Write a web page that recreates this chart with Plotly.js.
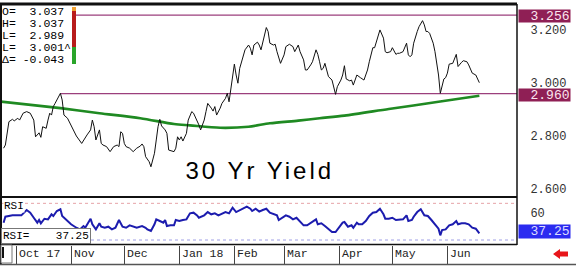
<!DOCTYPE html>
<html><head><meta charset="utf-8">
<script src="https://cdn.plot.ly/plotly-3.0.1.min.js"></script>
<style>html,body{margin:0;padding:0;background:#fff}#c{width:576px;height:270px}
#c .annotation-text[data-unformatted="30 Yr Yield"]{letter-spacing:3px}</style>
</head><body><div id="c"></div>
<script>
const yieldDates = ['2017-09-24','2017-09-25','2017-09-27','2017-09-29','2017-09-30',
'2017-10-02','2017-10-03','2017-10-05','2017-10-07','2017-10-09','2017-10-11','2017-10-12','2017-10-14','2017-10-15','2017-10-16','2017-10-18','2017-10-19','2017-10-20','2017-10-21','2017-10-22','2017-10-23','2017-10-25','2017-10-26','2017-10-27','2017-10-28','2017-10-30','2017-10-31',
'2017-11-02','2017-11-04','2017-11-07','2017-11-09','2017-11-10','2017-11-12','2017-11-13','2017-11-14','2017-11-15','2017-11-17','2017-11-18','2017-11-19','2017-11-21','2017-11-23','2017-11-25','2017-11-27','2017-11-28','2017-11-29','2017-11-30',
'2017-12-01','2017-12-02','2017-12-04','2017-12-06','2017-12-08','2017-12-10','2017-12-11','2017-12-12','2017-12-13','2017-12-15','2017-12-16','2017-12-18','2017-12-19','2017-12-20','2017-12-21','2017-12-22','2017-12-24','2017-12-25','2017-12-26','2017-12-28','2017-12-29','2017-12-30','2017-12-31',
'2018-01-01','2018-01-02','2018-01-03','2018-01-04','2018-01-05','2018-01-06','2018-01-08','2018-01-09','2018-01-11','2018-01-12','2018-01-13','2018-01-15','2018-01-16','2018-01-17','2018-01-19','2018-01-20','2018-01-21','2018-01-22','2018-01-24','2018-01-25','2018-01-27','2018-01-28','2018-01-29','2018-01-30',
'2018-02-01','2018-02-02','2018-02-03','2018-02-04','2018-02-06','2018-02-07','2018-02-09','2018-02-10','2018-02-11','2018-02-12','2018-02-14','2018-02-15','2018-02-16','2018-02-17','2018-02-18','2018-02-19','2018-02-20','2018-02-21','2018-02-23','2018-02-24','2018-02-25','2018-02-27',
'2018-03-01','2018-03-02','2018-03-04','2018-03-05','2018-03-06','2018-03-07','2018-03-09','2018-03-10','2018-03-12','2018-03-13','2018-03-14','2018-03-16','2018-03-17','2018-03-19','2018-03-20','2018-03-21','2018-03-22','2018-03-23','2018-03-24','2018-03-25','2018-03-26','2018-03-28','2018-03-29','2018-03-30','2018-03-31',
'2018-04-02','2018-04-03','2018-04-04','2018-04-05','2018-04-07','2018-04-08','2018-04-09','2018-04-11','2018-04-12','2018-04-13','2018-04-15','2018-04-17','2018-04-18','2018-04-19','2018-04-20','2018-04-21','2018-04-22','2018-04-23','2018-04-24','2018-04-26','2018-04-27','2018-04-28','2018-04-30',
'2018-05-01','2018-05-03','2018-05-04','2018-05-05','2018-05-07','2018-05-09','2018-05-10','2018-05-11','2018-05-12','2018-05-13','2018-05-15','2018-05-16','2018-05-18','2018-05-19','2018-05-20','2018-05-21','2018-05-22','2018-05-24','2018-05-25','2018-05-26','2018-05-27','2018-05-28','2018-05-30','2018-05-31',
'2018-06-01','2018-06-02','2018-06-04','2018-06-06','2018-06-07','2018-06-09','2018-06-10','2018-06-12','2018-06-13','2018-06-15','2018-06-16','2018-06-17','2018-06-19'];
const yieldValues = [2.754,2.766,2.854,2.863,2.857,
2.867,2.860,2.886,2.892,2.886,2.860,2.797,2.812,2.795,2.835,2.829,2.860,2.886,2.879,2.911,2.923,2.946,2.961,2.936,2.879,2.867,2.854,
2.829,2.800,2.772,2.795,2.804,2.823,2.860,2.835,2.785,2.823,2.772,2.766,2.760,2.741,2.760,2.766,2.760,2.816,2.810,
2.772,2.760,2.754,2.741,2.754,2.762,2.770,2.760,2.722,2.703,2.684,2.735,2.785,2.835,2.863,2.838,2.823,2.810,2.747,2.741,2.741,2.754,2.797,
2.785,2.797,2.781,2.797,2.810,2.860,2.892,2.886,2.860,2.842,2.823,2.860,2.892,2.923,2.905,2.894,2.911,2.879,2.905,2.923,2.942,2.961,2.929,2.980,
3.071,3.030,2.999,3.055,3.099,3.125,3.143,3.131,3.106,3.143,3.154,3.143,3.125,3.150,3.175,3.209,3.194,3.150,3.143,3.146,3.118,3.074,
3.106,3.137,3.146,3.143,3.137,3.118,3.143,3.118,3.087,3.049,3.049,3.068,3.080,3.125,3.108,3.080,3.049,3.055,3.074,3.049,3.024,3.011,2.980,2.957,2.986,
3.011,3.030,3.065,3.015,3.008,3.011,2.992,3.030,3.024,3.020,3.011,3.049,3.080,3.112,3.133,3.133,3.156,3.181,3.200,3.169,3.118,3.114,3.118,
3.133,3.108,3.112,3.112,3.118,3.150,3.106,3.099,3.106,3.150,3.194,3.212,3.235,3.219,3.194,3.194,3.187,3.150,3.118,3.080,3.030,2.961,3.015,3.020,
3.037,3.071,3.074,3.108,3.062,3.078,3.084,3.080,3.068,3.037,3.033,3.030,3.001];

const maDates = ['2017-09-22','2017-10-26','2017-11-17','2017-12-10','2017-12-29','2018-01-07','2018-01-24','2018-02-09','2018-02-21','2018-03-09','2018-03-21','2018-04-04','2018-04-29','2018-05-27','2018-06-19'];
const maValues = [2.930,2.905,2.886,2.867,2.845,2.840,2.831,2.835,2.848,2.858,2.867,2.877,2.902,2.929,2.952];

const rsiDates = ['2017-09-24','2017-09-25','2017-09-29','2017-10-04','2017-10-07','2017-10-09','2017-10-11','2017-10-13','2017-10-14','2017-10-15','2017-10-17','2017-10-19','2017-10-21','2017-10-22','2017-10-24','2017-10-26','2017-10-27','2017-10-30',
'2017-11-01','2017-11-04','2017-11-06','2017-11-08','2017-11-09','2017-11-12','2017-11-13','2017-11-15','2017-11-17','2017-11-18','2017-11-20','2017-11-22','2017-11-24','2017-11-26','2017-11-28','2017-11-30',
'2017-12-02','2017-12-04','2017-12-06','2017-12-08','2017-12-11','2017-12-13','2017-12-14','2017-12-16','2017-12-18','2017-12-19','2017-12-21','2017-12-23','2017-12-24','2017-12-25','2017-12-27','2017-12-29','2017-12-30',
'2018-01-01','2018-01-03','2018-01-05','2018-01-07','2018-01-09','2018-01-11','2018-01-12','2018-01-15','2018-01-17','2018-01-19','2018-01-21','2018-01-23','2018-01-25','2018-01-27','2018-01-29','2018-01-31',
'2018-02-02','2018-02-04','2018-02-06','2018-02-08','2018-02-10','2018-02-11','2018-02-13','2018-02-15','2018-02-17','2018-02-19','2018-02-21','2018-02-23','2018-02-25','2018-02-26','2018-02-28',
'2018-03-02','2018-03-04','2018-03-06','2018-03-08','2018-03-10','2018-03-12','2018-03-14','2018-03-16','2018-03-19','2018-03-20','2018-03-22','2018-03-24','2018-03-26','2018-03-28','2018-03-30',
'2018-04-01','2018-04-03','2018-04-04','2018-04-06','2018-04-08','2018-04-09','2018-04-11','2018-04-12','2018-04-14','2018-04-16','2018-04-18','2018-04-20','2018-04-22','2018-04-24','2018-04-26','2018-04-27','2018-04-29',
'2018-05-01','2018-05-03','2018-05-05','2018-05-07','2018-05-09','2018-05-10','2018-05-12','2018-05-13','2018-05-15','2018-05-17','2018-05-19','2018-05-21','2018-05-23','2018-05-25','2018-05-27','2018-05-28','2018-05-29','2018-05-31',
'2018-06-02','2018-06-04','2018-06-06','2018-06-07','2018-06-09','2018-06-11','2018-06-13','2018-06-15','2018-06-17','2018-06-19'];
const rsiValues = [48.9,55.4,56.9,56.9,62.7,59.8,54.3,48.9,51.8,48.2,53.2,52.5,58.0,56.2,61.6,63.5,56.2,50.7,
47.1,43.4,41.6,45.2,43.4,53.2,47.1,41.6,48.2,44.5,43.4,44.5,41.6,43.4,51.8,44.5,
43.4,46.0,44.5,43.4,45.2,43.4,41.6,39.8,47.1,52.5,50.7,48.9,51.8,45.2,46.0,46.0,51.8,
50.7,51.8,52.5,59.1,59.8,56.9,54.3,56.9,60.5,58.0,59.1,56.9,59.1,60.5,59.1,65.2,
60.5,62.7,64.1,66.3,64.1,61.6,64.1,61.0,62.7,64.1,59.8,58.0,56.9,51.8,54.3,
56.9,55.4,52.5,54.3,50.7,46.0,46.0,48.9,52.5,47.1,48.2,45.2,42.3,38.7,38.7,
43.4,48.9,49.6,44.5,46.0,43.4,48.9,47.1,47.1,50.7,56.2,59.8,60.5,64.1,58.0,53.2,53.2,
54.3,51.8,52.5,52.5,56.9,50.7,51.8,55.4,60.5,63.5,56.9,56.2,51.8,47.1,42.3,35.1,40.9,41.6,
46.0,47.1,50.7,47.1,48.2,48.2,47.1,43.4,42.3,37.25];

const levelValues = [3.256, 2.960];
const levelLabels = ['3.256', '2.960'];
const levelStarts = ['2017-09-22 13:00', '2017-10-26'];
const rsiBands = [70, 30];
const rsiLast = '37.25';

const yTicks = [2.6, 2.8, 3.0, 3.2];
const yTickText = ['2.600', '2.800', '3.000', '3.200'];
const monthTicks = ['2017-10-01','2017-11-01','2017-12-01','2018-01-01','2018-02-01','2018-03-01','2018-04-01','2018-05-01','2018-06-01'];
const monthLabels = ['Oct 17','Nov','Dec','Jan 18','Feb','Mar','Apr','May','Jun'];

const ohlcLines = ['O=  3.037', 'H=  3.037', 'L=  2.989', 'L=  3.001^', '\u0394= -0.043'];

const X0 = '2017-09-22 13:00', X1 = '2018-07-10 05:00';
const MONO = 'Liberation Mono, DejaVu Sans Mono, monospace';

const traces = [];
levelValues.forEach((v, i) => traces.push({
  x: [levelStarts[i], X1], y: [v, v], xaxis: 'x', yaxis: 'y', mode: 'lines',
  line: {color: '#9b3f7c', width: 1.2}, hoverinfo: 'skip', showlegend: false
}));
traces.push({x: maDates, y: maValues, xaxis: 'x', yaxis: 'y', mode: 'lines',
  line: {color: '#1f8a22', width: 2.6, shape: 'spline', smoothing: 0.8}, showlegend: false});
traces.push({x: yieldDates, y: yieldValues, xaxis: 'x', yaxis: 'y', mode: 'lines',
  line: {color: '#111', width: 1}, showlegend: false});
rsiBands.forEach((v, i) => traces.push({
  x: [X0, X1], y: [v, v], xaxis: 'x', yaxis: 'y2', mode: 'lines',
  line: {color: i === 0 ? '#e6a3a8' : '#a0a0e6', width: 1, dash: 'dot'}, showlegend: false
}));
traces.push({x: rsiDates, y: rsiValues, xaxis: 'x', yaxis: 'y2', mode: 'lines',
  line: {color: '#1c1cae', width: 2}, showlegend: false});

const W = 516, H = 240;            // plot area size in px
const px = x => (x - 1) / W;        // page px -> paper
const py = y => (245 - y) / H;

const annotations = [];
ohlcLines.forEach((t, i) => {
  const yc = [11.5, 23.5, 35.5, 47.5, 59.5][i];
  annotations.push({xref: 'paper', yref: 'paper', x: px(1), y: py(yc), xanchor: 'left', yanchor: 'middle',
    text: t, showarrow: false, borderpad: 0, font: {family: MONO, size: 11.5, color: '#000'}});
});
levelValues.forEach((v, i) => annotations.push({
  xref: 'paper', yref: 'y', x: 1, y: v, xanchor: 'left', yanchor: 'middle', xshift: 1, yshift: -1,
  text: levelLabels[i], showarrow: false, bgcolor: '#8f1f55', width: 50, height: 11, borderpad: 0.5, align: 'right',
  font: {family: MONO, size: 13, color: '#fbe6ef'}
}));
annotations.push({xref: 'paper', yref: 'y2', x: 1, y: 37.25, xanchor: 'left', yanchor: 'middle', xshift: 1, yshift: 2,
  text: rsiLast, showarrow: false, bgcolor: '#2b2bf0', width: 50, height: 12, borderpad: 0.5, align: 'right',
  font: {family: MONO, size: 13, color: '#dcdcff'}});
annotations.push({xref: 'paper', yref: 'paper', x: px(260), y: py(170), xanchor: 'center', yanchor: 'middle',
  text: '30 Yr Yield', showarrow: false, font: {family: 'Liberation Sans, Arial, sans-serif', size: 24, color: '#000'}});
annotations.push({xref: 'paper', yref: 'paper', x: px(3), y: py(206), xanchor: 'left', yanchor: 'middle',
  text: 'RSI', showarrow: false, bgcolor: '#fff', borderpad: 0, font: {family: MONO, size: 11, color: '#000'}});
annotations.push({xref: 'paper', yref: 'paper', x: px(1), y: py(236), xanchor: 'left', yanchor: 'middle',
  text: 'RSI=    ' + rsiLast, showarrow: false, bgcolor: '#fff', bordercolor: '#777', borderwidth: 1, borderpad: 1,
  font: {family: MONO, size: 11, color: '#000'}});
monthTicks.forEach((d, i) => annotations.push({
  xref: 'x', yref: 'paper', x: d, y: py(253), xanchor: 'left', yanchor: 'middle', xshift: 1,
  text: monthLabels[i], showarrow: false, font: {family: MONO, size: 11.5, color: '#222'}
}));

const shapes = [
  {type: 'rect', xref: 'paper', yref: 'paper', x0: px(0), x1: px(76), y0: py(66), y1: py(5), fillcolor: '#fff', line: {width: 0}, layer: 'above'},
  {type: 'rect', xref: 'paper', yref: 'paper', x0: px(72), x1: px(76), y0: py(47), y1: py(11), fillcolor: '#b81c1c', line: {width: 0}, layer: 'above'},
  {type: 'rect', xref: 'paper', yref: 'paper', x0: px(72), x1: px(76), y0: py(64), y1: py(47), fillcolor: '#2aa52a', line: {width: 0}, layer: 'above'},
  {type: 'rect', xref: 'paper', yref: 'paper', x0: px(72), x1: px(76), y0: py(11), y1: py(7), fillcolor: '#f0a030', line: {width: 0}, layer: 'above'},
  {type: 'line', xref: 'paper', yref: 'paper', x0: px(0), x1: 1, y0: py(4), y1: py(4), line: {color: '#111', width: 3}, layer: 'above'},
  {type: 'line', xref: 'paper', yref: 'paper', x0: px(0), x1: 1, y0: py(197), y1: py(197), line: {color: '#111', width: 2}, layer: 'above'},
  {type: 'line', xref: 'paper', yref: 'paper', x0: px(0), x1: 1, y0: py(244.5), y1: py(244.5), line: {color: '#111', width: 1.5}, layer: 'above'},
  {type: 'line', xref: 'paper', yref: 'paper', x0: 1, x1: 1, y0: py(245), y1: py(4), line: {color: '#111', width: 1.5}, layer: 'above'},
  {type: 'line', xref: 'paper', yref: 'paper', x0: px(1), x1: px(1), y0: py(265), y1: py(3), line: {color: '#111', width: 2}, layer: 'above'},
  {type: 'line', xref: 'paper', yref: 'paper', x0: px(0), x1: px(576), y0: py(264.5), y1: py(264.5), line: {color: '#555', width: 1.5}, layer: 'above'},
  {type: 'rect', xref: 'paper', yref: 'paper', x0: px(1), x1: px(12), y0: py(263), y1: py(245), fillcolor: '#fff', line: {color: '#777', width: 1}, layer: 'above'},
  {type: 'line', xref: 'paper', yref: 'paper', x0: px(3), x1: px(3), y0: py(258), y1: py(247), line: {color: '#111', width: 2}, layer: 'above'},
  {type: 'path', xref: 'paper', yref: 'paper', fillcolor: '#e8161b', line: {width: 0}, layer: 'above',
   path: `M ${px(553)},${py(254)} L ${px(560)},${py(249)} L ${px(560)},${py(251.5)} L ${px(568)},${py(251.5)} L ${px(568)},${py(256.5)} L ${px(560)},${py(256.5)} L ${px(560)},${py(259)} Z`}
];

const layout = {
  width: 576, height: 270,
  margin: {l: 1, r: 59, t: 5, b: 25, pad: 0},
  paper_bgcolor: '#fff', plot_bgcolor: '#fff',
  showlegend: false,
  xaxis: {type: 'date', range: [X0, X1], anchor: 'y2', showgrid: false, zeroline: false,
    tickvals: monthTicks, ticktext: monthTicks.map(() => ''), ticks: 'outside', ticklen: 18, tickwidth: 1, tickcolor: '#444',
    showline: false, fixedrange: true},
  yaxis: {domain: [0.2, 1], range: [2.570, 3.294], side: 'right', anchor: 'x', showgrid: false, zeroline: false,
    tickvals: yTicks, ticktext: yTickText, ticks: 'outside', ticklen: 10, tickcolor: 'rgba(0,0,0,0)',
    tickfont: {family: MONO, size: 12, color: '#333'}},
  yaxis2: {domain: [0, 0.2], range: [24.55, 76.9], side: 'right', anchor: 'x', showgrid: false, zeroline: false,
    tickvals: [60], ticktext: ['60'], ticks: 'outside', ticklen: 10, tickcolor: 'rgba(0,0,0,0)',
    tickfont: {family: MONO, size: 12, color: '#333'}},
  annotations: annotations,
  shapes: shapes
};

Plotly.newPlot('c', traces, layout, {staticPlot: true, displayModeBar: false});
</script>
</body></html>
